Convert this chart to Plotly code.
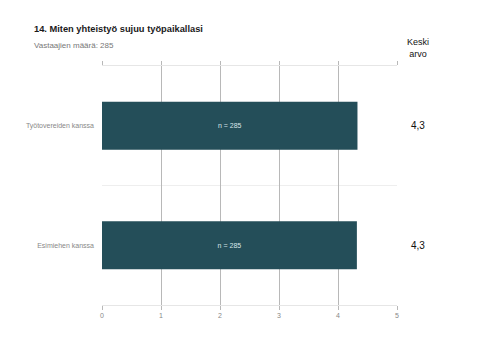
import plotly.graph_objects as go

title = "14. Miten yhteistyö sujuu työpaikallasi"
subtitle = "Vastaajien määrä: 285"
categories = ["Työtovereiden kanssa", "Esimiehen kanssa"]
values = [4.33, 4.32]
n_labels = ["n = 285", "n = 285"]
means = ["4,3", "4,3"]
x_ticks = [0, 1, 2, 3, 4, 5]

FONT = "Liberation Sans, Arial, sans-serif"
BAR = "#244e59"

fig = go.Figure()
fig.add_trace(go.Bar(
    y=categories, x=values, orientation="h",
    marker=dict(color=BAR, line=dict(width=0)),
    width=0.4,
    text=n_labels, textposition="inside", insidetextanchor="middle",
    textfont=dict(family=FONT, size=7, color="#d8e4e8"),
    hoverinfo="skip",
))

# mean value annotations on the right
for cat, m in zip(categories, means):
    fig.add_annotation(x=1.072, xref="paper", y=cat, yref="y", text=m,
                       showarrow=False, xanchor="center",
                       font=dict(family=FONT, size=10, color="#111111"))
fig.add_annotation(x=1.072, xref="paper", y=1.075, yref="paper",
                   text="Keski<br>arvo", showarrow=False, xanchor="center",
                   yanchor="middle", align="center",
                   font=dict(family=FONT, size=9, color="#111111"))

# title + subtitle
fig.add_annotation(text="<b>" + title + "</b>", xref="paper", yref="paper",
                   x=-70/295, y=1 + 37/239, xanchor="left", yanchor="middle",
                   showarrow=False, font=dict(family=FONT, size=9.3, color="#1a1a1a"))
fig.add_annotation(text=subtitle, xref="paper", yref="paper",
                   x=-70/295, y=1 + 21/239, xanchor="left", yanchor="middle",
                   showarrow=False, font=dict(family=FONT, size=8, color="#777777"))

# faint divider between categories
fig.add_shape(type="line", xref="paper", yref="y", x0=0, x1=1, y0=0.5, y1=0.5,
              line=dict(color="#eeeeee", width=1), layer="below")

fig.update_layout(
    width=480, height=360,
    margin=dict(l=102, r=83, t=66, b=55),
    paper_bgcolor="white", plot_bgcolor="white",
    showlegend=False,
    xaxis=dict(range=[0, 5], tickvals=x_ticks, showgrid=True, gridcolor="#b8b8b8",
               gridwidth=1, zeroline=False, showline=True, linecolor="#e6e6e6",
               mirror="ticks", ticks="outside", ticklen=4, tickcolor="#b8b8b8",
               tickfont=dict(family=FONT, size=7, color="#888888"), fixedrange=True),
    yaxis=dict(autorange=False, range=[1.5, -0.5], showgrid=False, zeroline=False,
               showline=False, ticks="", ticklen=0, ticklabelstandoff=7,
               tickfont=dict(family=FONT, size=7, color="#888888"), fixedrange=True),
)

fig.write_html("out.html")
